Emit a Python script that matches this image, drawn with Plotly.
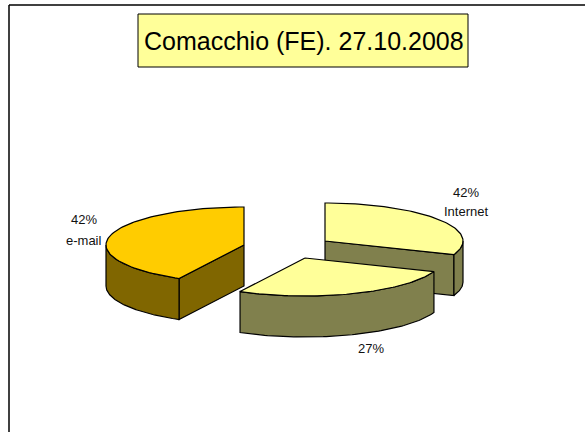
import numpy as np
import plotly.graph_objects as go

# Slice shares read from the drawn angles; the printed labels are kept apart
# because the reference's label text does not agree with the slice sizes.
slice_names = ["Internet", "Other", "e-mail"]
slice_shares = [30.8, 27, 42.2]
percent_labels = ["42%", "27%", "42%"]
name_labels = ["Internet", "", "e-mail"]
top_colors = ["#FFFF99", "#FFFF99", "#FFCC00"]
wall_colors = ["#80804D", "#80804D", "#806600"]
title_text = "Comacchio (FE). 27.10.2008"

W, H = 585, 432
A, B, DEPTH = 138, 38, 41
centers = [(325, 241), (305, 258), (244, 245)]
percent_xy = [(466, 192), (371, 348), (84, 219)]
name_xy = [(466, 211), None, (84, 240)]
# which straight cut faces show: the slice's start edge or end edge
cut_edge = ["end", None, "start"]


def rim(t0, t1, cx, cy, dy=0, n=80):
    t = np.radians(np.linspace(t0, t1, n))
    return cx + A * np.sin(t), cy - B * np.cos(t) + dy


def poly(fig, xs, ys, color):
    fig.add_trace(go.Scatter(
        x=list(xs), y=list(ys), mode="lines", fill="toself", fillcolor=color,
        line=dict(color="black", width=1.2), hoverinfo="skip", showlegend=False))


fig = go.Figure()
starts = np.cumsum([0] + slice_shares[:-1]) * 3.6
for i, share in enumerate(slice_shares):
    t0 = starts[i]
    t1 = t0 + share * 3.6
    cx, cy = centers[i]
    if cut_edge[i] is not None:
        edge = t1 if cut_edge[i] == "end" else t0
        ex, ey = rim(edge, edge, cx, cy, n=1)
        poly(fig, [cx, ex[0], ex[0], cx, cx],
             [cy, ey[0], ey[0] + DEPTH, cy + DEPTH, cy], wall_colors[i])
    # outer wall: only the part of the rim on the near side
    w0, w1 = max(t0, 90), min(t1, 270)
    if w1 > w0:
        tx, ty = rim(w0, w1, cx, cy)
        bx, by = rim(w1, w0, cx, cy, DEPTH)
        poly(fig, np.r_[tx, bx, tx[0]], np.r_[ty, by, ty[0]], wall_colors[i])
    # top surface
    tx, ty = rim(t0, t1, cx, cy)
    poly(fig, np.r_[cx, tx, cx], np.r_[cy, ty, cy], top_colors[i])

label_font = dict(family="Liberation Sans", size=13, color="#111111")
for text, xy in zip(percent_labels + name_labels, percent_xy + name_xy):
    if text and xy:
        fig.add_annotation(x=xy[0], y=xy[1], text=text, showarrow=False, font=label_font)

fig.add_annotation(x=303.5, y=41, text=title_text, showarrow=False,
                   font=dict(family="Liberation Sans", size=25, color="black"))
fig.add_shape(type="rect", x0=138, x1=468, y0=14, y1=67, layer="below",
              fillcolor="#FFFF99", line=dict(color="black", width=1))
# chart-area frame: only the top and left edges fall inside the picture
fig.add_shape(type="line", x0=9, x1=W, y0=5, y1=5, line=dict(color="black", width=1.5))
fig.add_shape(type="line", x0=9, x1=9, y0=5, y1=H, line=dict(color="black", width=1.5))

fig.update_layout(
    width=W, height=H, margin=dict(l=0, r=0, t=0, b=0),
    paper_bgcolor="white", plot_bgcolor="white", showlegend=False,
    xaxis=dict(range=[0, W], visible=False, fixedrange=True),
    yaxis=dict(range=[H, 0], visible=False, fixedrange=True),
)
fig.write_html("out.html", config={"displayModeBar": False},
               post_script="document.body.style.margin='0';document.documentElement.style.overflow='hidden';")
